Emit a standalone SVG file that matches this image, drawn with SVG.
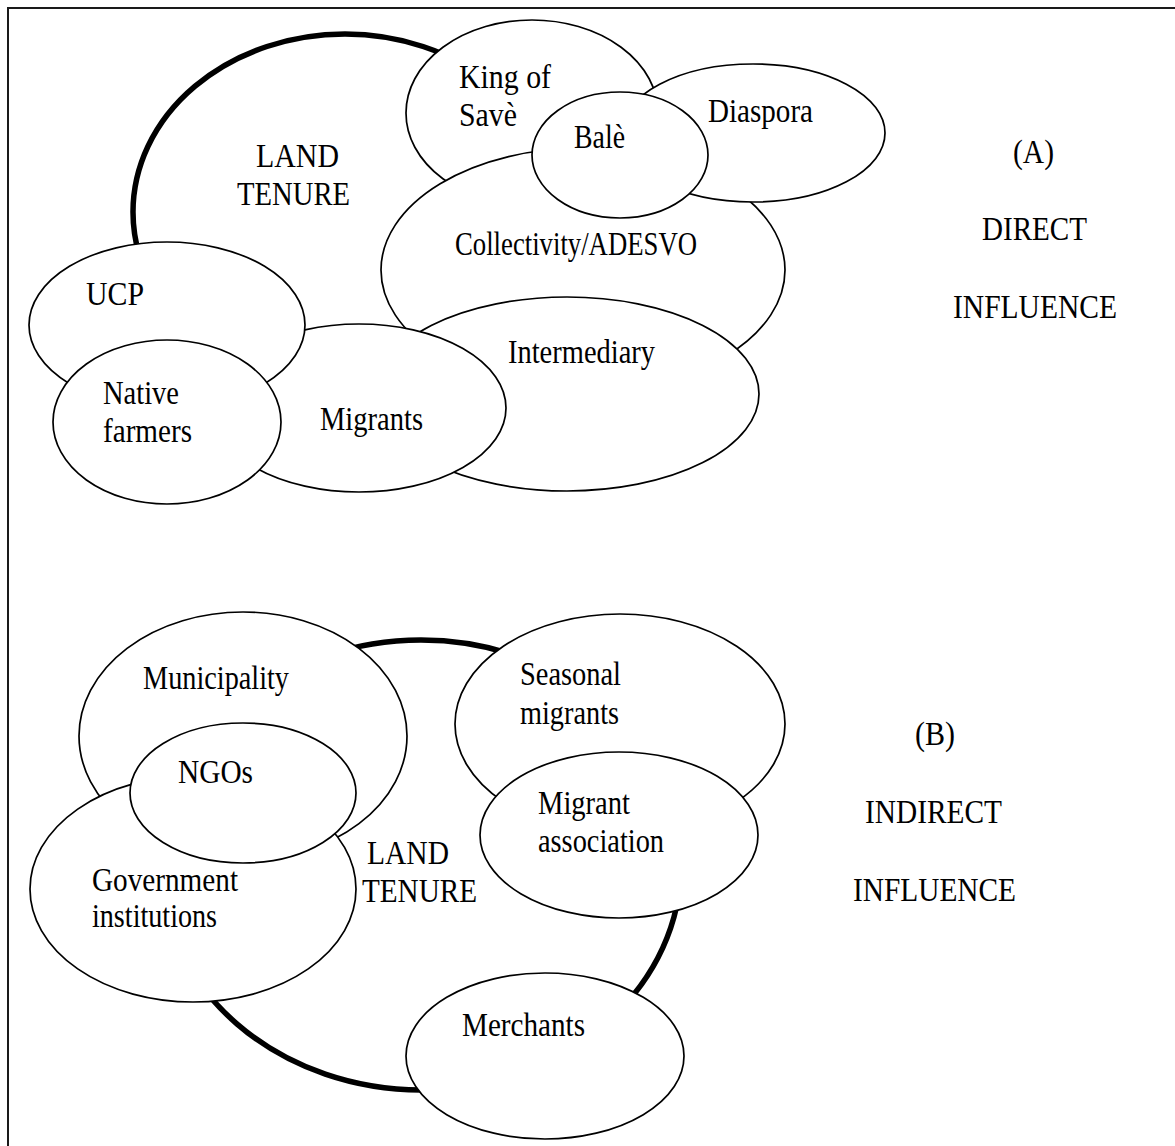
<svg xmlns="http://www.w3.org/2000/svg" width="1175" height="1146" viewBox="0 0 1175 1146">
  <style>
    .frame { fill: none; stroke: #1a1a1a; stroke-width: 2; }
    .node ellipse { fill: #fff; stroke: #000; stroke-width: 1.7; }
    .core ellipse { fill: #fff; stroke: #000; stroke-width: 5.5; }
    text { font-family: "Liberation Serif", "Times New Roman", serif; font-size: 34px; fill: #000; }
  </style>
  <rect width="1175" height="1146" fill="#fff"/>
  <path class="frame" d="M8,1146 V8 H1175"/>

  <!-- (A) direct influence -->
  <g id="land-tenure-a" class="core">
    <ellipse cx="345" cy="212" rx="212" ry="178"/>
    <text x="256" y="167" textLength="83" lengthAdjust="spacingAndGlyphs">LAND</text>
    <text x="237" y="205" textLength="113" lengthAdjust="spacingAndGlyphs">TENURE</text>
  </g>
  <g id="king-of-save" class="node">
    <ellipse cx="532" cy="113" rx="126" ry="93"/>
    <text x="459" y="88" textLength="92" lengthAdjust="spacingAndGlyphs">King of</text>
    <text x="459" y="126" textLength="58" lengthAdjust="spacingAndGlyphs">Savè</text>
  </g>
  <g id="collectivity" class="node">
    <ellipse cx="583" cy="270" rx="202" ry="122"/>
    <text x="455" y="255" textLength="242" lengthAdjust="spacingAndGlyphs">Collectivity/ADESVO</text>
  </g>
  <g id="diaspora" class="node">
    <ellipse cx="753" cy="133" rx="132" ry="69"/>
    <text x="708" y="122" textLength="105" lengthAdjust="spacingAndGlyphs">Diaspora</text>
  </g>
  <g id="bale" class="node">
    <ellipse cx="620" cy="155" rx="88" ry="63"/>
    <text x="574" y="148" textLength="51" lengthAdjust="spacingAndGlyphs">Balè</text>
  </g>
  <g id="intermediary" class="node">
    <ellipse cx="567" cy="394" rx="192" ry="97"/>
    <text x="508" y="363" textLength="147" lengthAdjust="spacingAndGlyphs">Intermediary</text>
  </g>
  <g id="migrants" class="node">
    <ellipse cx="359" cy="408" rx="147" ry="84"/>
    <text x="320" y="430" textLength="103" lengthAdjust="spacingAndGlyphs">Migrants</text>
  </g>
  <g id="ucp" class="node">
    <ellipse cx="167" cy="325" rx="138" ry="83"/>
    <text x="86" y="305" textLength="58" lengthAdjust="spacingAndGlyphs">UCP</text>
  </g>
  <g id="native-farmers" class="node">
    <ellipse cx="167" cy="422" rx="114" ry="82"/>
    <text x="103" y="404" textLength="76" lengthAdjust="spacingAndGlyphs">Native</text>
    <text x="103" y="442" textLength="89" lengthAdjust="spacingAndGlyphs">farmers</text>
  </g>
  <g id="label-a">
    <text x="1013" y="163" textLength="41" lengthAdjust="spacingAndGlyphs">(A)</text>
    <text x="982" y="240" textLength="105" lengthAdjust="spacingAndGlyphs">DIRECT</text>
    <text x="953" y="318" textLength="164" lengthAdjust="spacingAndGlyphs">INFLUENCE</text>
  </g>

  <!-- (B) indirect influence -->
  <g id="land-tenure-b" class="core">
    <ellipse cx="421" cy="865" rx="260" ry="225"/>
    <text x="367" y="864" textLength="82" lengthAdjust="spacingAndGlyphs">LAND</text>
    <text x="362" y="902" textLength="115" lengthAdjust="spacingAndGlyphs">TENURE</text>
  </g>
  <g id="municipality" class="node">
    <ellipse cx="243" cy="736" rx="164" ry="124"/>
    <text x="143" y="689" textLength="146" lengthAdjust="spacingAndGlyphs">Municipality</text>
  </g>
  <g id="government-institutions" class="node">
    <ellipse cx="193" cy="889" rx="163" ry="113"/>
    <text x="92" y="891" textLength="146" lengthAdjust="spacingAndGlyphs">Government</text>
    <text x="92" y="927" textLength="125" lengthAdjust="spacingAndGlyphs">institutions</text>
  </g>
  <g id="ngos" class="node">
    <ellipse cx="243" cy="793" rx="113" ry="70"/>
    <text x="178" y="783" textLength="75" lengthAdjust="spacingAndGlyphs">NGOs</text>
  </g>
  <g id="seasonal-migrants" class="node">
    <ellipse cx="620" cy="724" rx="165" ry="110"/>
    <text x="520" y="685" textLength="101" lengthAdjust="spacingAndGlyphs">Seasonal</text>
    <text x="520" y="724" textLength="99" lengthAdjust="spacingAndGlyphs">migrants</text>
  </g>
  <g id="migrant-association" class="node">
    <ellipse cx="619" cy="835" rx="139" ry="83"/>
    <text x="538" y="814" textLength="92" lengthAdjust="spacingAndGlyphs">Migrant</text>
    <text x="538" y="852" textLength="126" lengthAdjust="spacingAndGlyphs">association</text>
  </g>
  <g id="merchants" class="node">
    <ellipse cx="545" cy="1056" rx="139" ry="83"/>
    <text x="462" y="1036" textLength="123" lengthAdjust="spacingAndGlyphs">Merchants</text>
  </g>
  <g id="label-b">
    <text x="915" y="745" textLength="40" lengthAdjust="spacingAndGlyphs">(B)</text>
    <text x="865" y="823" textLength="137" lengthAdjust="spacingAndGlyphs">INDIRECT</text>
    <text x="853" y="901" textLength="163" lengthAdjust="spacingAndGlyphs">INFLUENCE</text>
  </g>

  <!-- no connectors: overlap alone shows the relations -->
  <g id="connectors"/>
</svg>
